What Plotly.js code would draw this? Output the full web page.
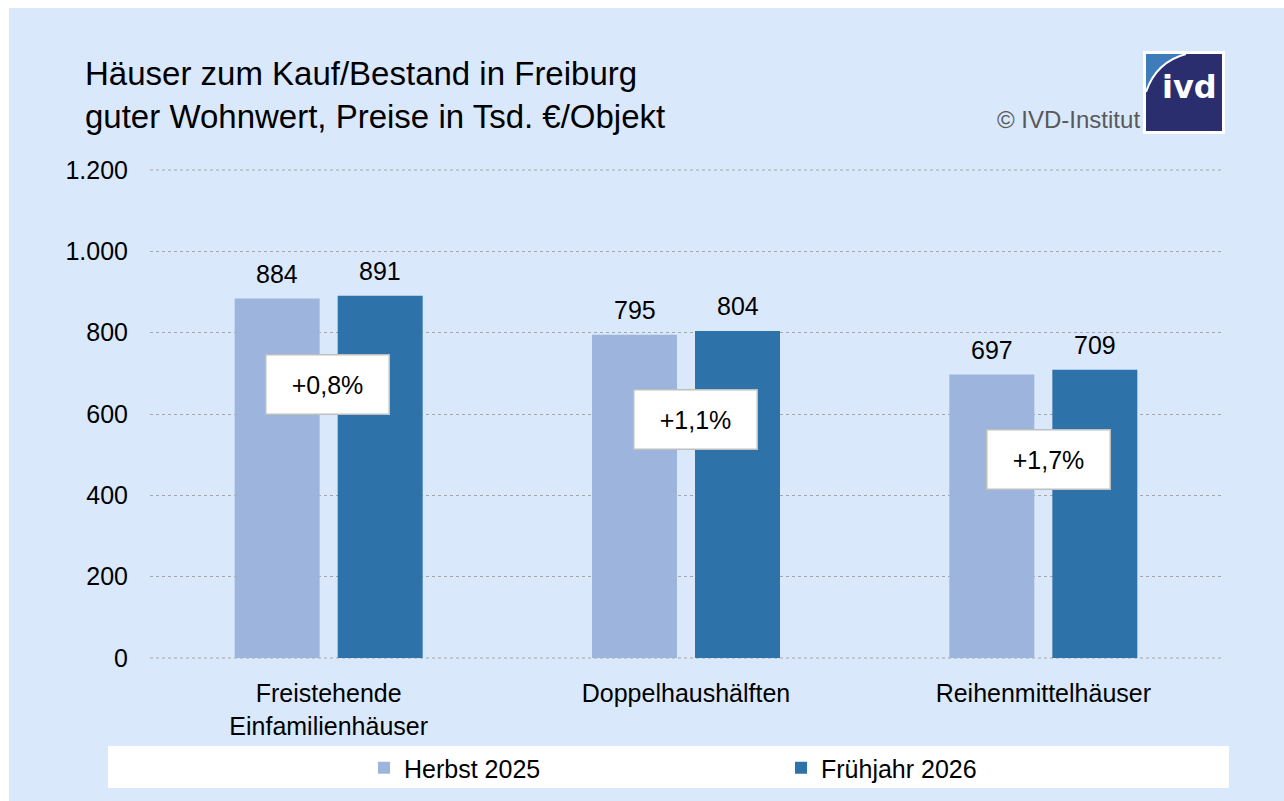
<!DOCTYPE html>
<html><head><meta charset="utf-8">
<script src="https://cdn.plot.ly/plotly-3.0.1.min.js"></script>
<style>
html,body{margin:0;padding:0;background:#ffffff;width:1284px;height:801px;overflow:hidden}
#chart{position:absolute;left:9px;top:8px;width:1275px;height:793px}
</style>
</head><body><div id="chart"></div>
<script>
// ---- data ----
const categories = ['Freistehende<br>Einfamilienhäuser', 'Doppelhaushälften', 'Reihenmittelhäuser'];
const seriesNames = ['Herbst 2025', 'Frühjahr 2026'];
const herbst2025 = [884, 795, 697];
const fruehjahr2026 = [891, 804, 709];
const yTickVals = [0, 200, 400, 600, 800, 1000, 1200];
const yTickText = ['0', '200', '400', '600', '800', '1.000', '1.200'];
const titleText = 'Häuser zum Kauf/Bestand in Freiburg<br>guter Wohnwert, Preise in Tsd. €/Objekt';
const creditText = '© IVD-Institut';
const logoText = 'ivd';

// ---- styling ----
const FONT = 'Liberation Sans, Arial, Helvetica, sans-serif';
const BG = '#DAE8FC';
const C_LIGHT = '#9DB5DC';
const C_DARK = '#2E72AA';
const GRID = '#A6A6A6';

// page-pixel -> paper helpers (plot area 150..1222 x 169..659 on page)
const PL = 150, PR = 1222, PT = 169, PB = 659;
const px = x => (x - PL) / (PR - PL);
const py = y => (PB - y) / (PB - PT);

const traces = [
  {type: 'bar', name: seriesNames[0], x: categories, y: herbst2025,
   marker: {color: C_LIGHT}, hoverinfo: 'skip'},
  {type: 'bar', name: seriesNames[1], x: categories, y: fruehjahr2026,
   marker: {color: C_DARK}, hoverinfo: 'skip'}
];

const annotations = [];
categories.forEach((c, i) => {
  annotations.push({x: c, y: herbst2025[i], xref: 'x', yref: 'y', text: String(herbst2025[i]),
    showarrow: false, xshift: -51.5, yshift: 9, yanchor: 'bottom',
    font: {family: FONT, size: 25, color: '#000'}});
  annotations.push({x: c, y: fruehjahr2026[i], xref: 'x', yref: 'y', text: String(fruehjahr2026[i]),
    showarrow: false, xshift: 51.5, yshift: 9, yanchor: 'bottom',
    font: {family: FONT, size: 25, color: '#000'}});
  const pct = ((fruehjahr2026[i] - herbst2025[i]) / herbst2025[i] * 100).toFixed(1).replace('.', ',');
  annotations.push({x: c, y: (herbst2025[i] + fruehjahr2026[i]) / 2, xref: 'x', yref: 'y',
    text: '+' + pct + '%', showarrow: false, xshift: [-1, 9, 5][i], yshift: -87,
    yanchor: 'middle', bgcolor: '#ffffff', bordercolor: '#BFBFBF', borderwidth: 1.5,
    borderpad: 1, width: 120, height: 56,
    font: {family: FONT, size: 25, color: '#000'}});
});
// credit + logo text
annotations.push({x: px(1142), y: py(119), xref: 'paper', yref: 'paper', text: creditText,
  showarrow: false, xanchor: 'right', yanchor: 'middle',
  font: {family: FONT, size: 24, color: '#595959'}});
annotations.push({x: px(1189), y: py(87), xref: 'paper', yref: 'paper', text: '<b>' + logoText + '</b>',
  showarrow: false, xanchor: 'center', yanchor: 'middle',
  font: {family: 'DejaVu Sans, sans-serif', size: 32, color: '#ffffff'}});

const shapes = [
  // dotted gridlines at the range ends (Plotly drops edge gridlines)
  {type: 'line', xref: 'paper', yref: 'y', x0: 0, x1: 1, y0: yTickVals[0], y1: yTickVals[0],
   line: {color: GRID, width: 1, dash: 'dot'}, layer: 'below'},
  {type: 'line', xref: 'paper', yref: 'y', x0: 0, x1: 1,
   y0: yTickVals[yTickVals.length - 1], y1: yTickVals[yTickVals.length - 1],
   line: {color: GRID, width: 1, dash: 'dot'}, layer: 'below'},
  // legend white band
  {type: 'rect', xref: 'paper', yref: 'paper', x0: px(108), x1: px(1229), y0: py(788), y1: py(746),
   fillcolor: '#ffffff', line: {width: 0}, layer: 'below'},
  // logo
  {type: 'rect', xref: 'paper', yref: 'paper', x0: px(1143), x1: px(1225), y0: py(134), y1: py(51),
   fillcolor: '#ffffff', line: {width: 0}, layer: 'above'},
  {type: 'rect', xref: 'paper', yref: 'paper', x0: px(1146), x1: px(1222), y0: py(131), y1: py(54),
   fillcolor: '#2A2E6E', line: {width: 0}, layer: 'above'},
  {type: 'path', xref: 'paper', yref: 'paper', layer: 'above',
   path: `M ${px(1146)},${py(54)} L ${px(1186)},${py(54)} Q ${px(1156)},${py(62)} ${px(1146)},${py(92)} Z`,
   fillcolor: '#3F7DBA', line: {width: 0}},
  {type: 'path', xref: 'paper', yref: 'paper', layer: 'above',
   path: `M ${px(1186)},${py(54)} Q ${px(1156)},${py(62)} ${px(1146)},${py(92)}`,
   line: {color: '#ffffff', width: 2}}
];

const layout = {
  width: 1275, height: 793,
  margin: {l: 141, r: 62, t: 161, b: 142, autoexpand: false},
  paper_bgcolor: BG, plot_bgcolor: BG,
  separators: ',.',
  font: {family: FONT, color: '#000'},
  title: {text: titleText, x: (85 - 9) / 1275, xanchor: 'left', xref: 'container',
          y: 1 - (85 - 8) / 793, yanchor: 'top', yref: 'container',
          font: {family: FONT, size: 33, color: '#000'}},
  barmode: 'group', bargap: 0.4235, bargroupgap: 0.175,
  showlegend: true,
  legend: {orientation: 'h', x: px(364), xanchor: 'left', y: py(768), yanchor: 'middle',
           bgcolor: 'rgba(0,0,0,0)', itemwidth: 30, entrywidth: 372, entrywidthmode: 'pixels',
           font: {family: FONT, size: 25, color: '#000'}, traceorder: 'normal'},
  xaxis: {type: 'category', showgrid: false, zeroline: false, showline: false,
          ticks: 'outside', ticklen: 12, tickcolor: 'rgba(0,0,0,0)', automargin: false,
          tickfont: {family: FONT, size: 25, color: '#000'}, fixedrange: true},
  yaxis: {range: [-1200 / 488, 1200 + 1200 / 488], tickvals: yTickVals, ticktext: yTickText, showgrid: true,
          gridcolor: GRID, griddash: 'dot', gridwidth: 1, zeroline: false, showline: false,
          ticks: 'outside', ticklen: 16, tickcolor: 'rgba(0,0,0,0)', automargin: false,
          tickfont: {family: FONT, size: 25, color: '#000'}, fixedrange: true},
  annotations: annotations,
  shapes: shapes,
  hovermode: false
};

Plotly.newPlot('chart', traces, layout, {displayModeBar: false, staticPlot: true});
</script>
</body></html>
